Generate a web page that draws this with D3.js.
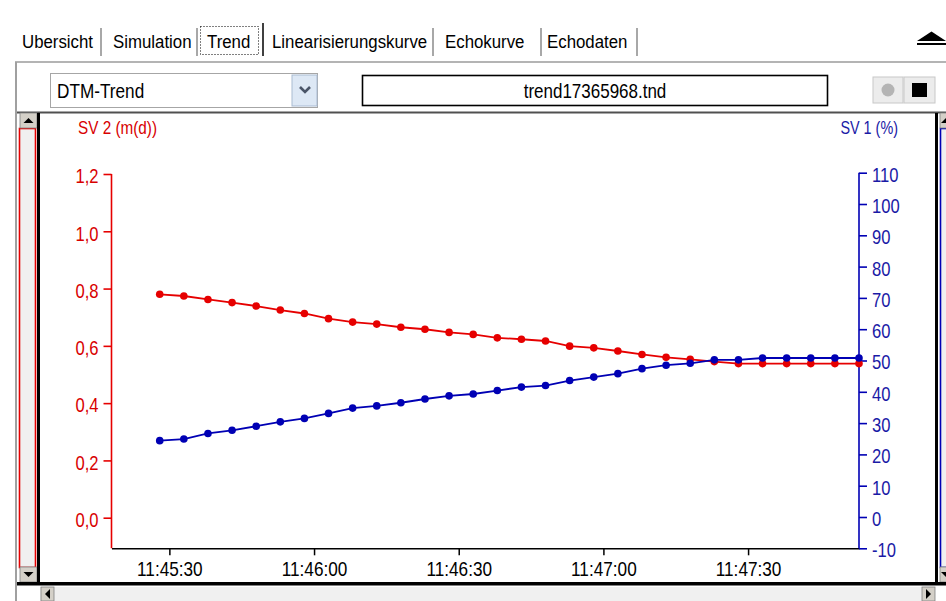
<!DOCTYPE html>
<html>
<head>
<meta charset="utf-8">
<script src="https://cdn.jsdelivr.net/npm/d3@7"></script>
<style>
  html, body { margin: 0; padding: 0; background: #fff; overflow: hidden; }
  svg { display: block; font-family: "Liberation Sans", Arial, sans-serif; }
</style>
</head>
<body>
<div id="chart"></div>
<script>
// Data
const tabs = ['Ubersicht', 'Simulation', 'Trend', 'Linearisierungskurve', 'Echokurve', 'Echodaten'];
const times = [
  '11:45:28', '11:45:33', '11:45:38', '11:45:43', '11:45:48', '11:45:53', '11:45:58',
  '11:46:03', '11:46:08', '11:46:13', '11:46:18', '11:46:23', '11:46:28', '11:46:33',
  '11:46:38', '11:46:43', '11:46:48', '11:46:53', '11:46:58', '11:47:03', '11:47:08',
  '11:47:13', '11:47:18', '11:47:23', '11:47:28', '11:47:33', '11:47:38', '11:47:43',
  '11:47:48', '11:47:53'
];
const sv2 = [0.780, 0.774, 0.762, 0.751, 0.739, 0.725, 0.713, 0.695, 0.683, 0.676,
             0.665, 0.658, 0.647, 0.640, 0.628, 0.623, 0.617, 0.599, 0.593, 0.582,
             0.570, 0.560, 0.553, 0.545, 0.538, 0.538, 0.538, 0.538, 0.538, 0.538];
const sv1 = [24.4, 24.9, 26.7, 27.7, 29.0, 30.4, 31.5, 33.1, 34.8, 35.5,
             36.5, 37.7, 38.7, 39.3, 40.4, 41.5, 42.0, 43.6, 44.7, 45.8,
             47.4, 48.5, 49.1, 50.2, 50.2, 50.8, 50.8, 50.8, 50.8, 50.8];
const timeDomain = ['11:45:18', '11:47:53'];
const timeTicks = ['11:45:30', '11:46:00', '11:46:30', '11:47:00', '11:47:30'];
const sv2Ticks = [0, 0.2, 0.4, 0.6, 0.8, 1.0, 1.2];
const sv1Ticks = [-10, 0, 10, 20, 30, 40, 50, 60, 70, 80, 90, 100, 110];
const sv2Label = 'SV 2 (m(d))';
const sv1Label = 'SV 1 (%)';
const trendName = 'DTM-Trend';
const fileName = 'trend17365968.tnd';

const W = 946, H = 601;
const RED = '#e60000', BLUE = '#0000b4';
const RED_TXT = '#d80000', BLUE_TXT = '#1a1aa6';

const svg = d3.select('#chart').append('svg')
  .attr('width', W).attr('height', H);

// squeezed text, like the old bitmap UI font
function label(g, x, y, txt, size, k, anchor, fill) {
  return g.append('text')
    .attr('transform', `translate(${x},${y}) scale(${k},1)`)
    .attr('text-anchor', anchor || 'start')
    .attr('font-size', size)
    .attr('fill', fill || '#000')
    .text(txt);
}

// ---- tab strip
const tabX = [22, 113, 207, 272, 445, 547];
const sepX = [101, 197, 263, 433, 541, 637];
const chrome = svg.append('g');
tabs.forEach((t, i) => label(chrome, tabX[i], 48, t, 18.5, 0.91));
sepX.forEach((x, i) => {
  const active = i === 2; // right edge of the "Trend" tab
  chrome.append('line')
    .attr('x1', x).attr('x2', x)
    .attr('y1', active ? 23 : 28).attr('y2', 56)
    .attr('stroke', active ? '#404040' : '#a8a8a8').attr('stroke-width', 2);
});
chrome.append('rect')
  .attr('x', 200.5).attr('y', 26.5).attr('width', 58).attr('height', 28)
  .attr('fill', 'none').attr('stroke', '#000').attr('stroke-dasharray', '1,2');
// scroll-up glyph
chrome.append('path').attr('d', 'M917,41 L931.5,31.5 L946,41 Z').attr('fill', '#000');
chrome.append('rect').attr('x', 917).attr('y', 43).attr('width', 29).attr('height', 2).attr('fill', '#000');

// panel border
chrome.append('line').attr('x1', 15).attr('x2', W).attr('y1', 62).attr('y2', 62)
  .attr('stroke', '#b4b4b4').attr('stroke-width', 2);
chrome.append('line').attr('x1', 16).attr('x2', 16).attr('y1', 62).attr('y2', H)
  .attr('stroke', '#a0a0a0').attr('stroke-width', 2);

// ---- control row
chrome.append('rect').attr('x', 50.5).attr('y', 73.5).attr('width', 267).attr('height', 34)
  .attr('fill', '#fff').attr('stroke', '#a6a6a6');
chrome.append('rect').attr('x', 292).attr('y', 75).attr('width', 25).attr('height', 31)
  .attr('fill', '#dde8f5').attr('stroke', '#a9bbd2');
chrome.append('path').attr('d', 'M300,87 L305,92 L310,87')
  .attr('fill', 'none').attr('stroke', '#4a5568').attr('stroke-width', 2.6);
label(chrome, 57, 98, trendName, 20, 0.86);

chrome.append('rect').attr('x', 362.5).attr('y', 75.5).attr('width', 465).attr('height', 30)
  .attr('fill', '#fff').attr('stroke', '#000').attr('stroke-width', 1.6);
label(chrome, 595, 98, fileName, 20, 0.85, 'middle');

chrome.append('rect').attr('x', 873).attr('y', 77).attr('width', 30).attr('height', 26)
  .attr('fill', '#ececec').attr('stroke', '#c8c8c8');
chrome.append('circle').attr('cx', 888).attr('cy', 90).attr('r', 6.5).attr('fill', '#b4b4b4');
chrome.append('rect').attr('x', 904).attr('y', 77).attr('width', 31).attr('height', 26)
  .attr('fill', '#ececec').attr('stroke', '#c8c8c8');
chrome.append('rect').attr('x', 912).attr('y', 83).attr('width', 15).attr('height', 14).attr('fill', '#000');

chrome.append('line').attr('x1', 17).attr('x2', W).attr('y1', 112.5).attr('y2', 112.5)
  .attr('stroke', '#505050').attr('stroke-width', 2);

// ---- scrollbars
function arrowBtn(x, y, w, h, dir) {
  chrome.append('rect').attr('x', x).attr('y', y).attr('width', w).attr('height', h)
    .attr('fill', '#d4d0c8').attr('stroke', '#808080').attr('stroke-width', 0.8);
  const cx = x + w / 2, cy = y + h / 2;
  const d = {
    up: `M${cx - 5},${cy + 2.5} L${cx},${cy - 2.5} L${cx + 5},${cy + 2.5} Z`,
    down: `M${cx - 5},${cy - 2.5} L${cx},${cy + 2.5} L${cx + 5},${cy - 2.5} Z`,
    left: `M${cx + 2.5},${cy - 5} L${cx - 2.5},${cy} L${cx + 2.5},${cy + 5} Z`,
    right: `M${cx - 2.5},${cy - 5} L${cx + 2.5},${cy} L${cx - 2.5},${cy + 5} Z`
  }[dir];
  chrome.append('path').attr('d', d).attr('fill', '#000');
}
chrome.append('rect').attr('x', 19.5).attr('y', 128.5).attr('width', 16).attr('height', 439)
  .attr('fill', '#f0f0f0').attr('stroke', RED).attr('stroke-width', 1.6);
arrowBtn(20, 113, 17, 15, 'up');
arrowBtn(20, 567, 17, 15, 'down');
chrome.append('rect').attr('x', 37).attr('y', 113).attr('width', 3).attr('height', 472).attr('fill', '#000');

chrome.append('rect').attr('x', 940.5).attr('y', 128.5).attr('width', 10).attr('height', 439)
  .attr('fill', '#f0f0f0').attr('stroke', BLUE).attr('stroke-width', 1.6);
arrowBtn(940, 113, 12, 15, 'up');
arrowBtn(940, 567, 12, 15, 'down');
chrome.append('rect').attr('x', 935).attr('y', 113).attr('width', 3).attr('height', 472).attr('fill', '#000');

chrome.append('rect').attr('x', 17).attr('y', 582).attr('width', W - 17).attr('height', 3.5).attr('fill', '#000');
chrome.append('rect').attr('x', 40).attr('y', 587).attr('width', 895).attr('height', 14).attr('fill', '#f0f0f0');
arrowBtn(41, 587, 13, 14, 'left');
arrowBtn(922, 587, 13, 14, 'right');

// ---- chart
const parse = d3.timeParse('%H:%M:%S');
const pts = times.map((t, i) => ({ t: parse(t), a: sv2[i], b: sv1[i] }));

const x = d3.scaleTime().domain(timeDomain.map(parse)).range([111.5, 859]);
const yL = d3.scaleLinear().domain([0, 1.2]).range([517.7, 174]);
const yR = d3.scaleLinear().domain([-10, 110]).range([548.3, 172.7]);
const plotBottom = 548.3;

const de = d3.formatLocale({ decimal: ',', thousands: '.', grouping: [3], currency: ['', '€'], minus: '-' });
const fmt1 = de.format('.1f');
const fmtInt = de.format('d');

const g = svg.append('g');

// x axis
const xAxis = d3.axisBottom(x)
  .tickValues(timeTicks.map(parse))
  .tickFormat(d3.timeFormat('%H:%M:%S'))
  .tickSize(7).tickSizeOuter(0).tickPadding(7);
const xg = g.append('g').attr('transform', `translate(0,${plotBottom})`).call(xAxis);
xg.select('.domain').attr('stroke', '#000').attr('stroke-width', 1.5);
xg.selectAll('.tick line').attr('stroke', '#000').attr('stroke-width', 1.5);
xg.selectAll('text').attr('font-size', 20).attr('font-family', null).attr('fill', '#000')
  .attr('transform', 'scale(0.86,1)');

// left axis (SV 2)
const lg = g.append('g').attr('transform', 'translate(111.5,0)')
  .call(d3.axisLeft(yL).tickValues(sv2Ticks).tickFormat(fmt1).tickSize(8));
lg.select('.domain').remove();
lg.append('line').attr('y1', yL(1.2)).attr('y2', plotBottom)
  .attr('stroke', RED).attr('stroke-width', 1.6);
lg.selectAll('.tick line').attr('stroke', RED).attr('stroke-width', 1.6);
lg.selectAll('text').attr('font-size', 20).attr('font-family', null).attr('fill', RED_TXT)
  .attr('x', 0).attr('dy', '0.44em').attr('transform', 'translate(-13,0) scale(0.83,1)');

// right axis (SV 1)
const rg = g.append('g').attr('transform', 'translate(859,0)')
  .call(d3.axisRight(yR).tickValues(sv1Ticks).tickFormat(fmtInt).tickSize(8));
rg.select('.domain').remove();
rg.append('line').attr('y1', yR(110)).attr('y2', yR(-10))
  .attr('stroke', BLUE).attr('stroke-width', 1.6);
rg.selectAll('.tick line').attr('stroke', BLUE).attr('stroke-width', 1.6);
rg.selectAll('text').attr('font-size', 20).attr('font-family', null).attr('fill', BLUE_TXT)
  .attr('x', 0).attr('dy', '0.42em').attr('transform', 'translate(13,0) scale(0.83,1)');

label(g, 78, 134, sv2Label, 18, 0.85, 'start', RED_TXT);
label(g, 898, 134, sv1Label, 18, 0.8, 'end', BLUE_TXT);

// series
const lineA = d3.line().x(d => x(d.t)).y(d => yL(d.a));
const lineB = d3.line().x(d => x(d.t)).y(d => yR(d.b));

g.append('path').datum(pts).attr('d', lineA)
  .attr('fill', 'none').attr('stroke', RED).attr('stroke-width', 1.8);
g.selectAll('.dotA').data(pts).enter().append('circle')
  .attr('class', 'dotA')
  .attr('cx', d => x(d.t)).attr('cy', d => yL(d.a)).attr('r', 3.8).attr('fill', RED);

g.append('path').datum(pts).attr('d', lineB)
  .attr('fill', 'none').attr('stroke', BLUE).attr('stroke-width', 1.8);
g.selectAll('.dotB').data(pts).enter().append('circle')
  .attr('class', 'dotB')
  .attr('cx', d => x(d.t)).attr('cy', d => yR(d.b)).attr('r', 3.8).attr('fill', BLUE);
</script>
</body>
</html>
